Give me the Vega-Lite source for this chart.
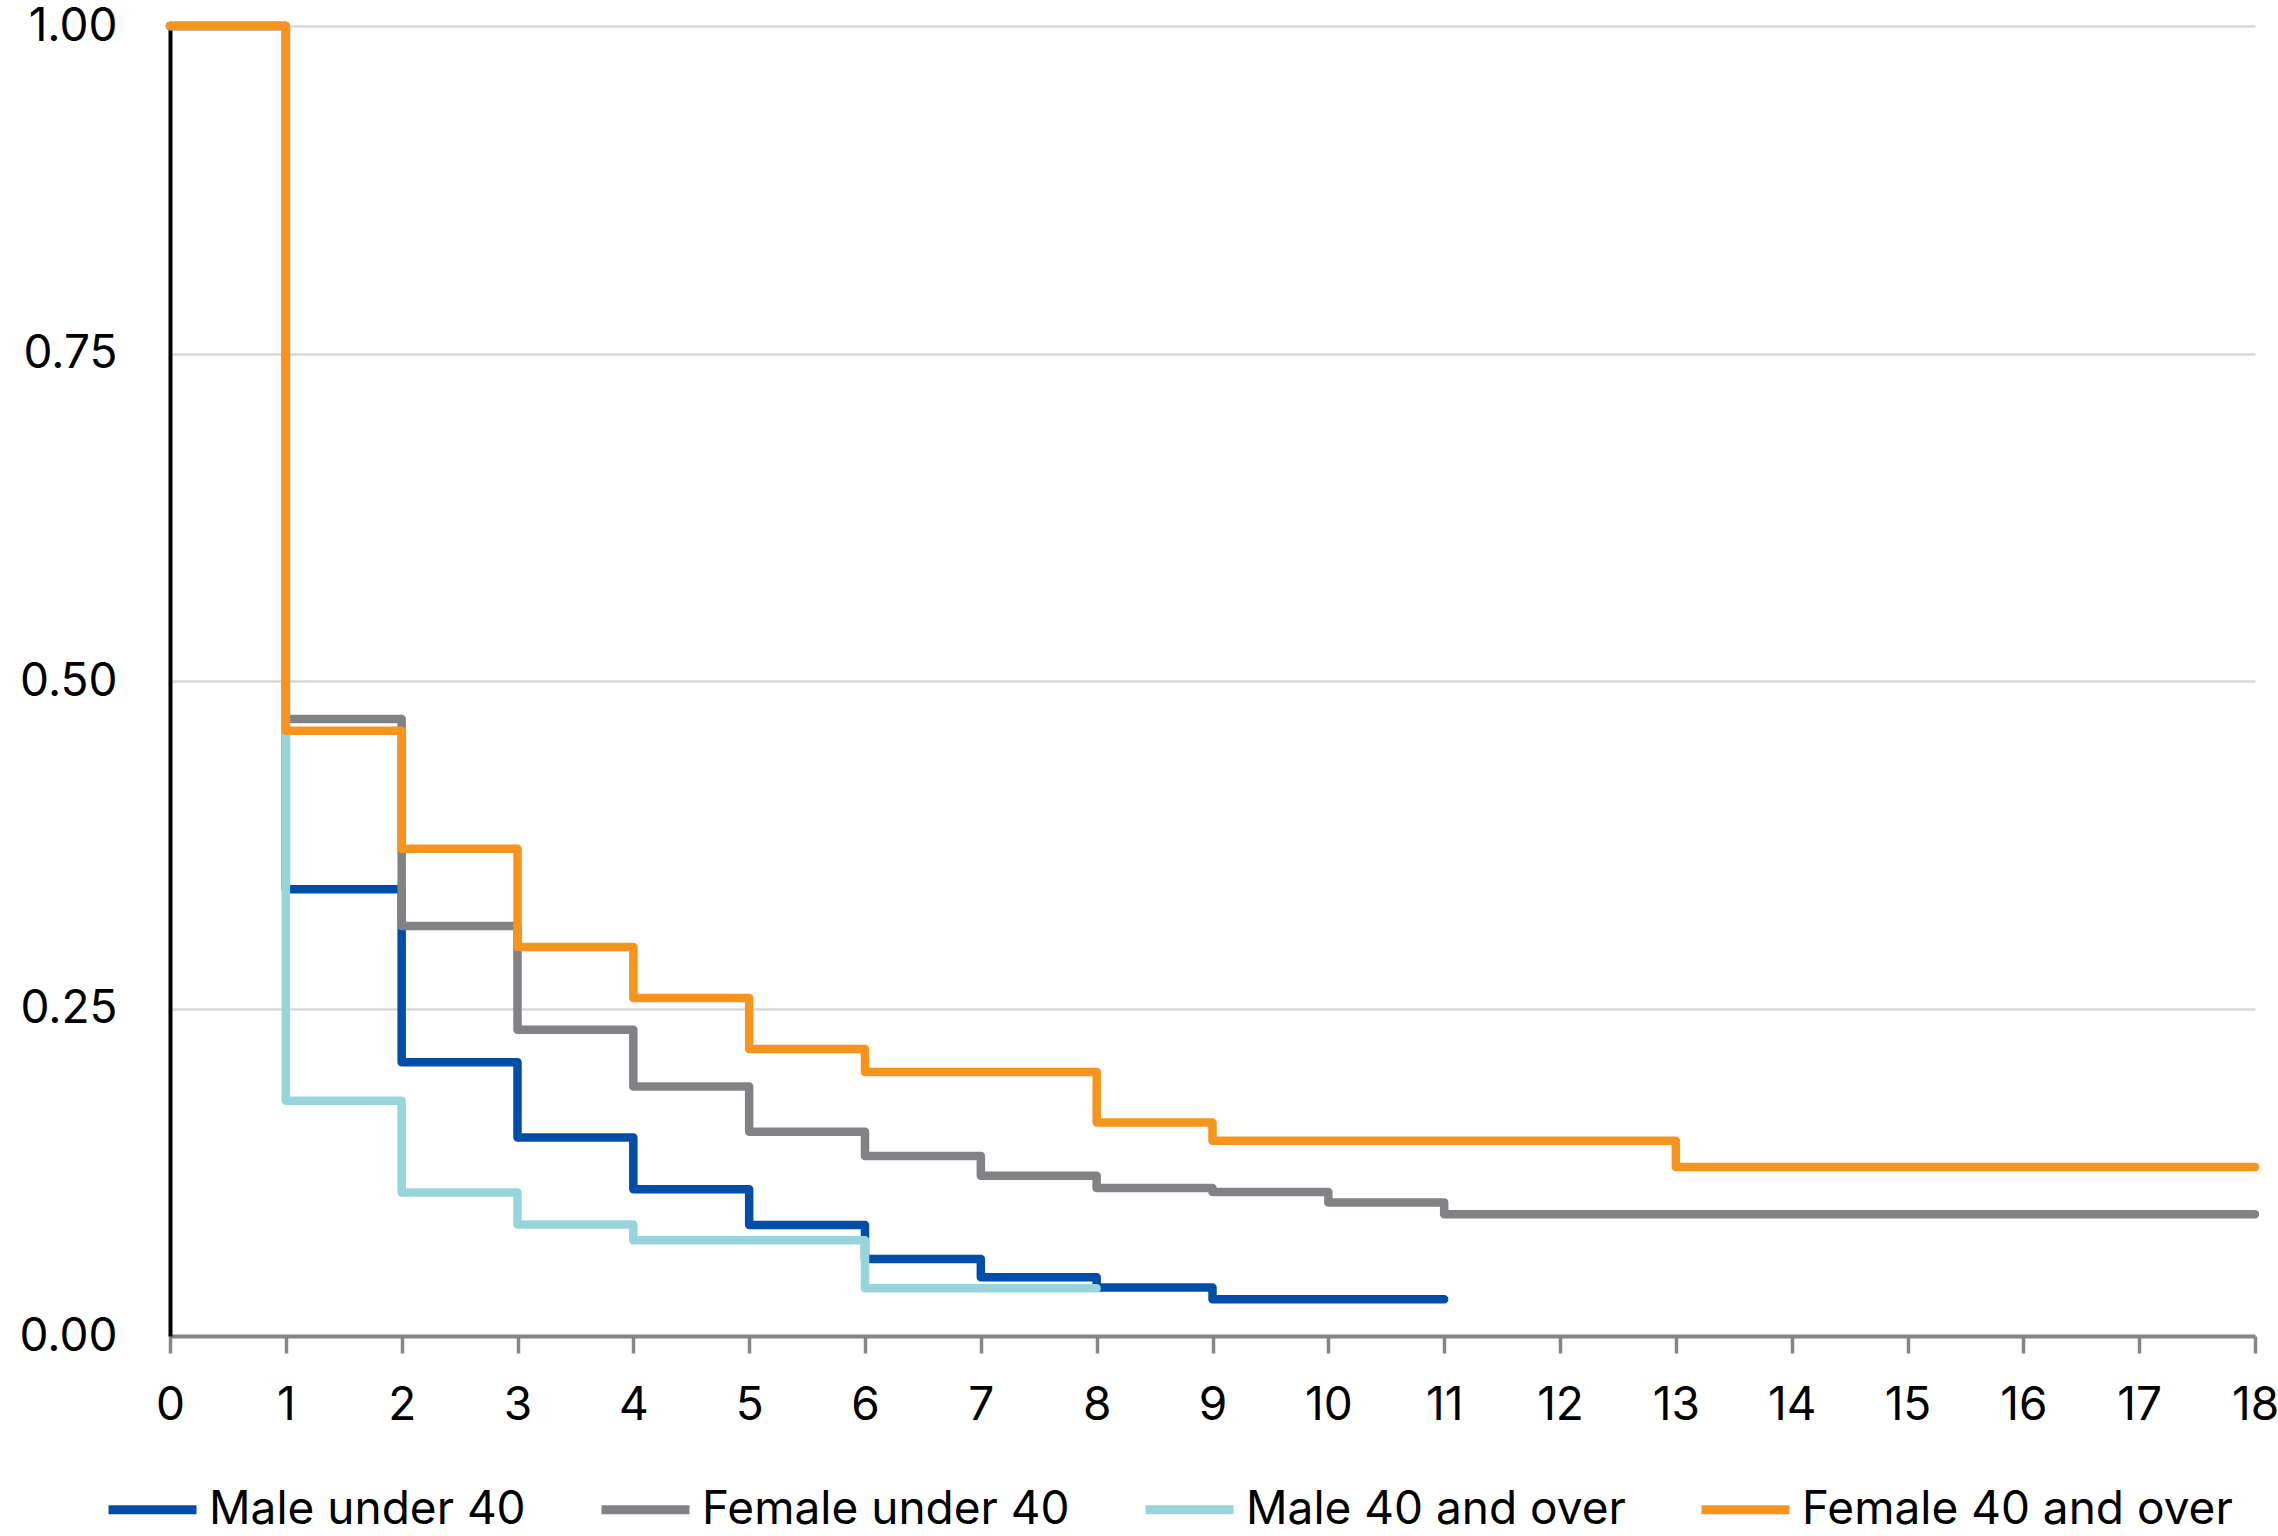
{
  "$schema": "https://vega.github.io/schema/vega-lite/v6.json",
  "autosize": {"type": "none"},
  "padding": {"left": 170, "top": 26, "right": 23, "bottom": 200},
  "width": 2085,
  "height": 1310,
  "background": "white",
  "config": {
    "font": "Inter",
    "view": {"stroke": null}
  },
  "data": {
    "values": [
      {"s": "Male under 40", "t": 0, "p": 1},
      {"s": "Male under 40", "t": 1, "p": 0.341},
      {"s": "Male under 40", "t": 2, "p": 0.209},
      {"s": "Male under 40", "t": 3, "p": 0.1515},
      {"s": "Male under 40", "t": 4, "p": 0.112},
      {"s": "Male under 40", "t": 5, "p": 0.0847},
      {"s": "Male under 40", "t": 6, "p": 0.0587},
      {"s": "Male under 40", "t": 7, "p": 0.0448},
      {"s": "Male under 40", "t": 8, "p": 0.037},
      {"s": "Male under 40", "t": 9, "p": 0.028},
      {"s": "Male under 40", "t": 11, "p": 0.028},
      {"s": "Female under 40", "t": 0, "p": 1},
      {"s": "Female under 40", "t": 1, "p": 0.471},
      {"s": "Female under 40", "t": 2, "p": 0.313},
      {"s": "Female under 40", "t": 3, "p": 0.2337},
      {"s": "Female under 40", "t": 4, "p": 0.1905},
      {"s": "Female under 40", "t": 5, "p": 0.156},
      {"s": "Female under 40", "t": 6, "p": 0.1375},
      {"s": "Female under 40", "t": 7, "p": 0.1223},
      {"s": "Female under 40", "t": 8, "p": 0.113},
      {"s": "Female under 40", "t": 9, "p": 0.11},
      {"s": "Female under 40", "t": 10, "p": 0.102},
      {"s": "Female under 40", "t": 11, "p": 0.093},
      {"s": "Female under 40", "t": 18, "p": 0.093},
      {"s": "Male 40 and over", "t": 0, "p": 1},
      {"s": "Male 40 and over", "t": 1, "p": 0.1795},
      {"s": "Male 40 and over", "t": 2, "p": 0.1096},
      {"s": "Male 40 and over", "t": 3, "p": 0.0852},
      {"s": "Male 40 and over", "t": 4, "p": 0.073},
      {"s": "Male 40 and over", "t": 6, "p": 0.0364},
      {"s": "Male 40 and over", "t": 8, "p": 0.0364},
      {"s": "Female 40 and over", "t": 0, "p": 1},
      {"s": "Female 40 and over", "t": 1, "p": 0.462},
      {"s": "Female 40 and over", "t": 2, "p": 0.372},
      {"s": "Female 40 and over", "t": 3, "p": 0.297},
      {"s": "Female 40 and over", "t": 4, "p": 0.258},
      {"s": "Female 40 and over", "t": 5, "p": 0.219},
      {"s": "Female 40 and over", "t": 6, "p": 0.2016},
      {"s": "Female 40 and over", "t": 8, "p": 0.163},
      {"s": "Female 40 and over", "t": 9, "p": 0.149},
      {"s": "Female 40 and over", "t": 13, "p": 0.129},
      {"s": "Female 40 and over", "t": 18, "p": 0.129}
    ]
  },
  "mark": {"type": "line", "interpolate": "step-after", "strokeWidth": 8.5, "strokeCap": "round", "strokeJoin": "round"},
  "encoding": {
    "x": {
      "field": "t", "type": "quantitative",
      "scale": {"domain": [0, 18], "nice": false, "zero": true},
      "axis": {
        "title": null, "values": [0,1,2,3,4,5,6,7,8,9,10,11,12,13,14,15,16,17,18],
        "grid": false, "domainColor": "#858689", "domainWidth": 4,
        "tickColor": "#858689", "tickWidth": 3.5, "tickSize": 17,
        "labelFontSize": 46, "labelColor": "#000000", "labelPadding": 30,
        "labelFont": "Inter", "labelFontWeight": 400, "labelFlush": false
      }
    },
    "y": {
      "field": "p", "type": "quantitative",
      "scale": {"domain": [0, 1], "nice": false},
      "axis": {
        "title": null, "values": [0, 0.25, 0.5, 0.75, 1], "format": ".2f",
        "domainColor": "#000000", "domainWidth": 4, "ticks": false,
        "gridColor": "#d9d9d9", "gridWidth": 2.5,
        "labelFontSize": 46, "labelColor": "#000000", "labelPadding": 53,
        "labelFont": "Inter", "labelFontWeight": 400, "labelFlush": false
      }
    },
    "color": {
      "field": "s", "type": "nominal",
      "scale": {
        "domain": ["Male under 40", "Female under 40", "Male 40 and over", "Female 40 and over"],
        "range": ["#004EA8", "#818285", "#96D5DC", "#F7941D"]
      },
      "legend": {
        "title": null, "orient": "none", "direction": "horizontal",
        "legendX": -66, "legendY": 1435,
        "symbolType": "stroke", "symbolSize": 7744, "symbolStrokeWidth": 9,
        "labelFontSize": 46, "labelColor": "#000000", "labelOffset": 8,
        "labelFont": "Inter", "labelFontWeight": 400,
        "columnPadding": 57, "labelLimit": 800
      }
    }
  }
}
